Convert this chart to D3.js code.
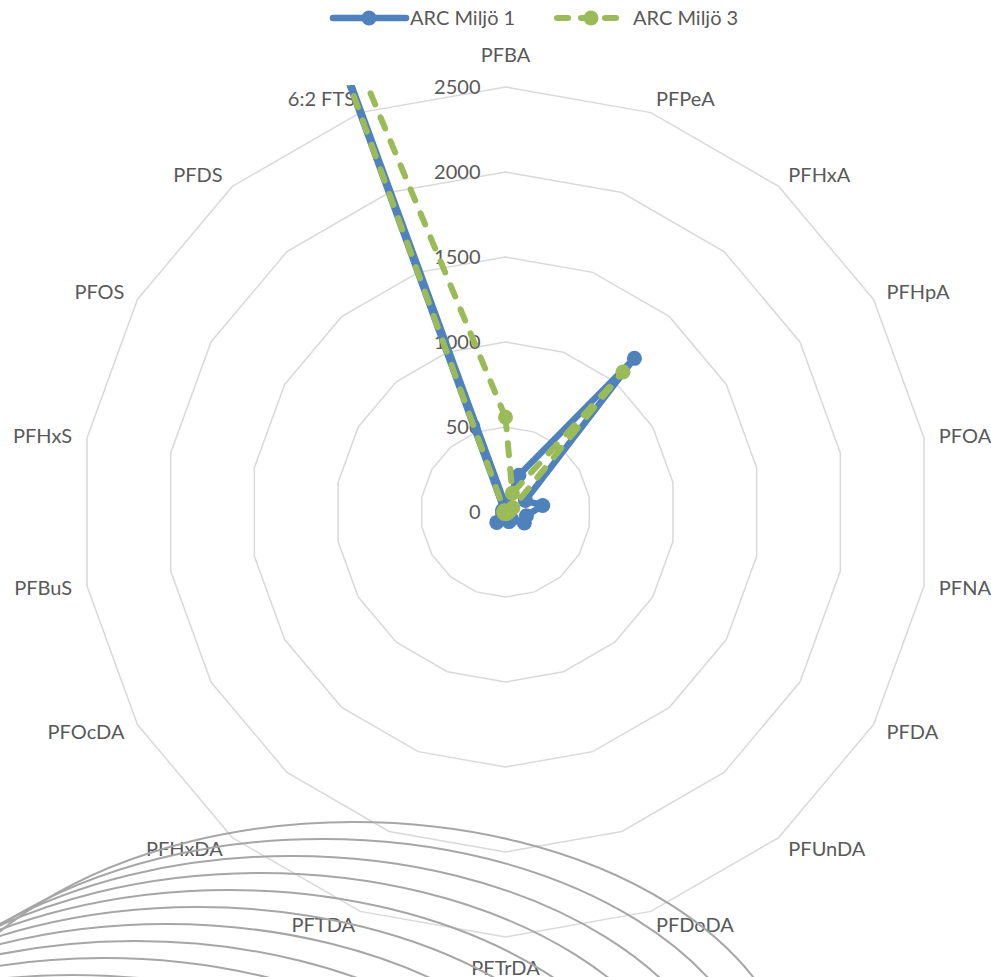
<!DOCTYPE html>
<html>
<head>
<meta charset="utf-8">
<script src="https://cdn.jsdelivr.net/npm/d3@7"></script>
<style>
  body { margin: 0; background: #fff; }
  text { font-family: Lato, "DejaVu Sans", sans-serif; }
</style>
</head>
<body>
<div id="chart"></div>
<script>
// categories round the radar, clockwise from the top
const categories = ["PFBA", "PFPeA", "PFHxA", "PFHpA", "PFOA", "PFNA", "PFDA", "PFUnDA", "PFDoDA",
  "PFTrDA", "PFTDA", "PFHxDA", "PFOcDA", "PFBuS", "PFHxS", "PFOS", "PFDS", "6:2 FTS"];
const seriesNames = ["ARC Miljö 1", "ARC Miljö 3"];
const miljo1 = [40, 230, 1180, 135, 222, 125, 128, 55, 60, 20, 10, 80, 20, 10, 10, 20, 10, 5200];
const miljo3 = [557, 118, 1075, 50, 25, 15, 10, 10, 10, 10, 10, 10, 10, 10, 10, 10, 10, 4700];
const tickValues = [0, 500, 1000, 1500, 2000, 2500];

const W = 991, H = 977;
const cx = 505.5, cy = 512, radius = 425, maxValue = 2500;
const total = categories.length,
  angleSlice = Math.PI * 2 / total;

const rScale = d3.scaleLinear().domain([0, maxValue]).range([0, radius]);
const color = d3.scaleOrdinal().domain(seriesNames).range(["#4f81bd", "#9bbb59"]);

const svg = d3.select("#chart").append("svg")
  .attr("width", W).attr("height", H);

// plot area clip (the lines run off the top)
svg.append("clipPath").attr("id", "plotClip")
  .append("rect").attr("x", 0).attr("y", 85).attr("width", W).attr("height", H - 85);

const g = svg.append("g").attr("transform", `translate(${cx},${cy})`);

//////////////// Grid polygons ////////////////
const pt = (r, i) => [r * Math.sin(angleSlice * i), -r * Math.cos(angleSlice * i)];

g.append("g").selectAll("polygon")
  .data(tickValues.filter(d => d > 0))
  .join("polygon")
  .attr("points", d => d3.range(total).map(i => pt(rScale(d), i).join(",")).join(" "))
  .attr("fill", "none")
  .attr("stroke", "#d9d9d9")
  .attr("stroke-width", 1.5);

// spokes
g.append("g").selectAll("line")
  .data(d3.range(total))
  .join("line")
  .attr("x1", 0).attr("y1", 0)
  .attr("x2", i => pt(rScale(maxValue), i)[0])
  .attr("y2", i => pt(rScale(maxValue), i)[1])
  .attr("stroke", "#d9d9d9").attr("stroke-width", 0)

//////////////// Ghost rings (rendering artefact bottom left) ////////////////
svg.append("g").selectAll("ellipse")
  .data(d3.range(12))
  .join("ellipse")
  .attr("cx", k => 354 - 31.25 * k)
  .attr("cy", k => 1100 + 17 * k)
  .attr("rx", 445).attr("ry", 278)
  .attr("fill", "none")
  .attr("stroke", "#a6a6a6")
  .attr("stroke-width", 2);

//////////////// Series ////////////////
const radarLine = d3.lineRadial()
  .radius(d => rScale(d))
  .angle((d, i) => i * angleSlice)
  .curve(d3.curveLinearClosed);

const series = [
  { name: seriesNames[0], values: miljo1, dash: null, width: 6.5 },
  { name: seriesNames[1], values: miljo3, dash: "12 14", width: 6 }
];

const plot = svg.append("g").attr("clip-path", "url(#plotClip)")
  .append("g").attr("transform", `translate(${cx},${cy})`);

series.forEach(s => {
  const w = plot.append("g");
  w.append("path")
    .attr("d", radarLine(s.values))
    .attr("fill", "none")
    .attr("stroke", color(s.name))
    .attr("stroke-width", s.width)
    .attr("stroke-linejoin", "round")
    .attr("stroke-linecap", "round")
    .attr("stroke-dasharray", s.dash);
  w.selectAll("circle")
    .data(s.values)
    .join("circle")
    .attr("cx", (d, i) => pt(rScale(d), i)[0])
    .attr("cy", (d, i) => pt(rScale(d), i)[1])
    .attr("r", 7.5)
    .attr("fill", color(s.name));
});

//////////////// Tick labels ////////////////
g.append("g").selectAll("text")
  .data(tickValues)
  .join("text")
  .attr("x", -25)
  .attr("y", d => -rScale(d))
  .attr("dy", "0.35em")
  .attr("text-anchor", "end")
  .attr("fill", "#595959")
  .style("font-size", "20px")
  .text(d => d);

//////////////// Category labels ////////////////
const labelR = 440;
g.append("g").selectAll("text")
  .data(categories)
  .join("text")
  .attr("x", (d, i) => pt(labelR, i)[0])
  .attr("y", (d, i) => {
    const c = Math.cos(angleSlice * i);
    let y = pt(labelR, i)[1];
    if (c > 0.95) y -= 17;
    if (c < -0.95) y += 16;
    return y;
  })
  .attr("dy", "0.35em")
  .attr("text-anchor", (d, i) => {
    const s = Math.sin(angleSlice * i);
    return s > 0.01 ? "start" : s < -0.01 ? "end" : "middle";
  })
  .attr("fill", "#595959")
  .style("font-size", "20px")
  .text(d => d);

//////////////// Legend ////////////////
const legend = svg.append("g");
const legendX = [333, 557];
series.forEach((s, i) => {
  const lg = legend.append("g").attr("transform", `translate(${legendX[i]},18)`);
  lg.append("line")
    .attr("x1", 0).attr("x2", i === 0 ? 73 : 65)
    .attr("y1", 0).attr("y2", 0)
    .attr("stroke", color(s.name))
    .attr("stroke-width", s.width)
    .attr("stroke-linecap", "round")
    .attr("stroke-dasharray", s.dash ? "11 13" : null);
  lg.append("circle").attr("cx", i === 0 ? 36 : 34).attr("cy", 0).attr("r", 7.5).attr("fill", color(s.name));
  lg.append("text")
    .attr("x", i === 0 ? 77 : 76).attr("y", 0).attr("dy", "0.35em")
    .attr("fill", "#595959")
    .style("font-size", "20px")
    .text(s.name);
});
</script>
</body>
</html>
